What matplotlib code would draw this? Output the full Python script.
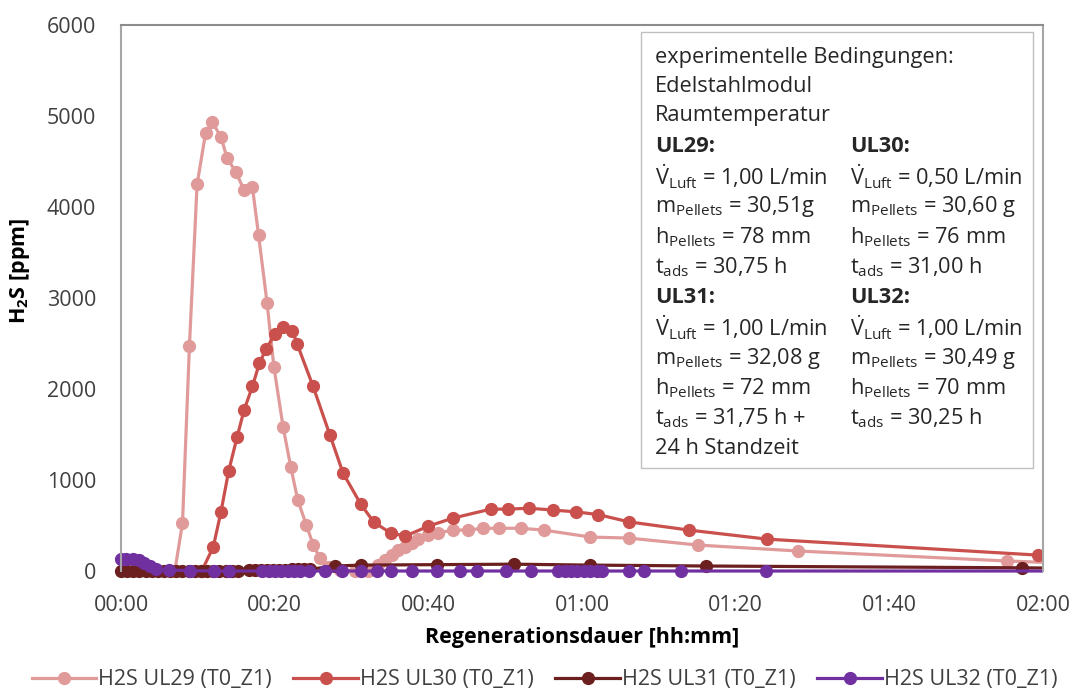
import matplotlib
matplotlib.use("Agg")
import matplotlib.pyplot as plt
from matplotlib.patches import Rectangle
from matplotlib.ticker import FuncFormatter, MultipleLocator

plt.rcParams['font.family'] = ['Open Sans', 'DejaVu Sans']
plt.rcParams['mathtext.fontset'] = 'custom'
plt.rcParams['mathtext.rm'] = 'Open Sans'
plt.rcParams['mathtext.it'] = 'Open Sans:italic'
plt.rcParams['mathtext.bf'] = 'Open Sans:bold'

# time in minutes, H2S in ppm
t_ul29 = [7.0, 8.0, 8.9, 9.9, 11.0, 11.9, 13.0, 13.8, 14.9, 16.0, 17.1, 17.9, 19.0, 19.9,
          21.1, 22.1, 23.0, 24.1, 25.0, 25.9, 27.0, 28.5, 30.5, 32.2, 33.4, 34.4, 35.3,
          36.1, 37.0, 37.9, 38.7, 40.0, 41.2, 43.2, 45.1, 47.1, 49.2, 52.0, 55.0, 61.1,
          66.1, 75.1, 88.1, 115.3, 125.0]
h2s_ul29 = [0, 526, 2470, 4250, 4810, 4930, 4770, 4540, 4390, 4190, 4220, 3690, 2950, 2240,
            1580, 1140, 780, 510, 290, 140, 40, 10, 0, 0, 66, 120, 175,
            230, 263, 307, 350, 395, 417, 450, 450, 470, 470, 470, 450, 373,
            362, 285, 220, 110, 80]

t_ul30 = [10.5, 12.0, 13.0, 14.0, 15.1, 16.0, 17.1, 18.0, 18.9, 20.1, 21.1, 22.3, 22.9, 25.0,
          27.2, 28.9, 31.2, 32.9, 35.1, 37.0, 40.0, 43.2, 48.1, 50.3, 53.1, 56.2, 59.2,
          62.1, 66.1, 73.9, 84.1, 119.3]
h2s_ul30 = [0, 263, 647, 1096, 1469, 1765, 2029, 2281, 2445, 2610, 2686, 2643, 2500, 2028,
            1491, 1075, 735, 537, 417, 384, 493, 581, 680, 680, 690, 670, 650,
            620, 540, 450, 350, 175]

t_ul31 = [0.0, 0.8, 1.6, 2.4, 3.2, 4.0, 4.8, 5.6, 6.4, 7.2, 8.0, 8.8, 9.6, 10.4, 11.2, 12.0,
          12.8, 13.6, 14.4, 15.2, 16.6, 17.4, 18.2, 19.0, 19.8, 20.6, 21.4, 22.2, 23.0,
          23.8, 24.6, 27.9, 31.2, 41.1, 51.1, 61.1, 76.1, 117.2, 125.0]
h2s_ul31 = [0, 0, 0, 0, 0, 0, 0, 0, 0, 0, 0, 0, 0, 0, 0, 0,
            0, 0, 0, 0, 10, 10, 10, 15, 15, 15, 15, 20, 20,
            20, 20, 55, 65, 70, 75, 65, 55, 35, 30]

t_ul32 = [0.0, 0.7, 1.5, 2.3, 3.0, 3.8, 4.5, 6.3, 9.0, 12.1, 14.0, 18.4, 19.2, 20.0, 20.8,
          21.7, 22.5, 23.3, 24.5, 26.5, 28.7, 31.2, 33.3, 35.1, 37.9, 41.1, 44.1, 46.3,
          50.1, 53.4, 56.9, 57.8, 58.6, 59.4, 60.3, 61.1, 61.9, 62.6, 66.1, 68.1, 72.9,
          84.0, 125.0]
h2s_ul32 = [130, 130, 135, 120, 90, 50, 25, 10, 5, 0, 0, 0, 0, 0, 0,
            0, 0, 0, 0, 0, 0, 0, 0, 0, 0, 0, 0, 0,
            0, 0, 0, 0, 0, 0, 0, 0, 0, 0, 0, 0, 0,
            0, 0]

series = [
    ("H2S UL29 (T0_Z1)", t_ul29, h2s_ul29, "#e09a9a"),
    ("H2S UL30 (T0_Z1)", t_ul30, h2s_ul30, "#c9504d"),
    ("H2S UL31 (T0_Z1)", t_ul31, h2s_ul31, "#6b1f1f"),
    ("H2S UL32 (T0_Z1)", t_ul32, h2s_ul32, "#7030a0"),
]

fig = plt.figure(figsize=(10.72, 6.95), dpi=100)
ax = fig.add_axes([0.1129, 0.1784, 0.8601, 0.7856])

for name, t, v, c in series:
    line, = ax.plot(t, v, color=c, lw=2.3, marker='o', ms=8.5, label=name)
    # clip at 02:00 but let markers on the zero line hang below the axis
    line.set_clip_path(Rectangle((-0.02, -0.05), 1.02, 1.1, transform=ax.transAxes))

ax.set_xlim(0, 120)
ax.set_ylim(0, 6000)

ax.xaxis.set_major_locator(MultipleLocator(20))
ax.yaxis.set_major_locator(MultipleLocator(1000))
ax.xaxis.set_major_formatter(FuncFormatter(lambda m, p: f"{int(m) // 60:02d}:{int(m) % 60:02d}"))
ax.tick_params(length=0, labelsize=15.5, colors='#404040')
ax.tick_params(axis='x', pad=17)
ax.tick_params(axis='y', pad=18)

for s in ['left', 'right', 'top']:
    ax.spines[s].set_color('#a6a6a6')
    ax.spines[s].set_linewidth(1.5)
ax.spines['top'].set_color('#8c8c8c')
ax.spines['bottom'].set_visible(False)

ax.set_ylabel('H$_\\mathbf{2}$S [ppm]', fontsize=15.5, fontweight='bold')
ax.yaxis.set_label_coords(-0.0965, 0.549)
ax.set_xlabel('Regenerationsdauer [hh:mm]', fontsize=15.5, fontweight='bold', labelpad=8)

# text box with experimental conditions
fig.patches.append(Rectangle((641 / 1072, 1 - 468 / 695), 392 / 1072, 436 / 695,
                             transform=fig.transFigure, facecolor='white',
                             edgecolor='#bfbfbf', lw=1, zorder=5))

fs = 15.7
def put(x, y, s, **kw):
    fig.text(x / 1072, 1 - y / 695, s, fontsize=fs, color='#262626', va='center', zorder=6, **kw)

put(655, 58, 'experimentelle Bedingungen:')
put(655, 87, 'Edelstahlmodul')
put(655, 116, 'Raumtemperatur')

V = r'$\dot{\mathrm{V}}_{\mathrm{Luft}}$'
m = r'm$_{\mathrm{Pellets}}$'
h = r'h$_{\mathrm{Pellets}}$'
ta = r't$_{\mathrm{ads}}$'

col1 = [('UL29:', True), (V + ' = 1,00 L/min', False), (m + ' = 30,51g', False),
        (h + ' = 78 mm', False), (ta + ' = 30,75 h', False),
        ('UL31:', True), (V + ' = 1,00 L/min', False), (m + ' = 32,08 g', False),
        (h + ' = 72 mm', False), (ta + ' = 31,75 h +', False), ('24 h Standzeit', False)]
col2 = [('UL30:', True), (V + ' = 0,50 L/min', False), (m + ' = 30,60 g', False),
        (h + ' = 76 mm', False), (ta + ' = 31,00 h', False),
        ('UL32:', True), (V + ' = 1,00 L/min', False), (m + ' = 30,49 g', False),
        (h + ' = 70 mm', False), (ta + ' = 30,25 h', False)]

y0, dy = 146, 30.3
for i, (s, b) in enumerate(col1):
    put(655, y0 + i * dy, s, fontweight='bold' if b else 'normal')
for i, (s, b) in enumerate(col2):
    put(850, y0 + i * dy, s, fontweight='bold' if b else 'normal')

fig.legend(loc='center', bbox_to_anchor=(0.508, 1 - 680 / 695), ncol=4, frameon=False,
           fontsize=15.5, handlelength=3.0, columnspacing=1.0, handletextpad=0.1,
           labelcolor='#404040')

fig.savefig('out.png', dpi=100)
